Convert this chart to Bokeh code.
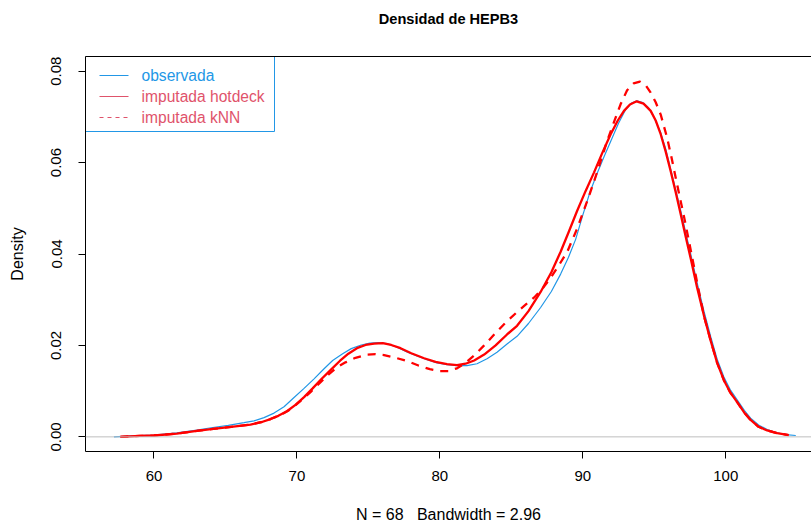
from bokeh.plotting import figure
from bokeh.models import Span, FixedTicker, NumeralTickFormatter, LinearAxis, Range1d
from bokeh.core.properties import value
from bokeh.embed import file_html
from bokeh.resources import INLINE

# ---------------- data ----------------
obs_x = [57.2, 58.5, 60.0, 61.6, 63.0, 64.0, 65.2, 66.3, 67.0, 67.7, 68.4, 69.1, 69.8,
         70.5, 71.2, 71.9, 72.5, 73.2, 73.8, 74.5, 75.1, 75.7, 76.3, 77.0, 77.7, 78.4,
         79.1, 79.8, 80.5, 81.2, 81.9, 82.6, 83.3, 84.0, 84.7, 85.4, 86.2, 87.05, 87.8,
         88.45, 89.0, 89.5, 90.0, 90.5, 91.0, 91.5, 92.0, 92.5, 93.0, 93.4, 93.8, 94.2,
         94.6, 95.0, 95.45, 95.8, 96.15, 96.5, 96.85, 97.2, 97.55, 98.0, 98.5, 98.95,
         99.4, 99.87, 100.3, 100.8, 101.3, 101.74, 102.3, 102.9, 103.6, 104.2, 104.9]
obs_y = [0.0, 0.0002, 0.0004, 0.0009, 0.0015, 0.0020, 0.0025, 0.0031, 0.0035, 0.0042,
         0.0052, 0.0066, 0.0086, 0.0106, 0.0127, 0.0149, 0.0167, 0.0182, 0.0193, 0.0201,
         0.0205, 0.0206, 0.0204, 0.0196, 0.0186, 0.0177, 0.0169, 0.0162, 0.0158, 0.0156,
         0.0156, 0.0160, 0.0171, 0.0185, 0.0203, 0.0220, 0.0248, 0.0283, 0.0318, 0.0356,
         0.0393, 0.0432, 0.0485, 0.0535, 0.0576, 0.0614, 0.0650, 0.0686, 0.0716, 0.0730,
         0.0735, 0.0731, 0.0720, 0.0698, 0.0665, 0.0630, 0.0585, 0.0540, 0.0495, 0.0447,
         0.0400, 0.0337, 0.0272, 0.0219, 0.0170, 0.0131, 0.0104, 0.0081, 0.0058, 0.0041,
         0.0026, 0.0016, 0.0009, 0.0005, 0.0003]

hot_x = [57.65, 59.0, 60.0, 61.6, 63.0, 64.0, 65.4, 66.75, 67.5, 68.15, 68.7, 69.3, 69.9,
         70.5, 71.1, 71.7, 72.35, 73.0, 73.6, 74.2, 74.8, 75.4, 76.0, 76.6, 77.25, 78.0,
         78.9, 79.7, 80.5, 81.2, 81.8, 82.4, 83.1, 83.9, 84.7, 85.4, 86.2, 87.05, 87.8,
         88.45, 89.0, 89.6, 90.2, 90.78, 91.35, 91.95, 92.45, 92.88, 93.3, 93.77, 94.25,
         94.75, 95.1, 95.45, 95.8, 96.15, 96.5, 96.85, 97.2, 97.55, 98.0, 98.5, 98.95,
         99.4, 99.87, 100.3, 100.8, 101.3, 101.74, 102.3, 102.9, 103.6, 104.4]
hot_y = [0.0, 0.0002, 0.0003, 0.0007, 0.0013, 0.0017, 0.0022, 0.0027, 0.0032, 0.0039,
         0.0046, 0.0056, 0.0070, 0.0087, 0.0106, 0.0126, 0.0146, 0.0166, 0.0182, 0.0194,
         0.0201, 0.0204, 0.0205, 0.0201, 0.0194, 0.0183, 0.0172, 0.0164, 0.0159, 0.0157,
         0.0160, 0.0167, 0.0180, 0.0200, 0.0224, 0.0243, 0.0275, 0.0317, 0.0360, 0.0405,
         0.0447, 0.0494, 0.0538, 0.0578, 0.0620, 0.0662, 0.0692, 0.0713, 0.0727, 0.0734,
         0.0729, 0.0713, 0.0692, 0.0662, 0.0624, 0.0581, 0.0535, 0.0487, 0.0438, 0.0390,
         0.0326, 0.0262, 0.0210, 0.0162, 0.0124, 0.0098, 0.0076, 0.0053, 0.0037, 0.0022,
         0.0014, 0.0008, 0.0004]

knn_x = [57.65, 59.0, 60.0, 61.6, 63.0, 64.0, 65.4, 66.75, 67.5, 68.15, 68.8, 69.55, 70.2,
         70.95, 71.6, 72.2, 72.8, 73.4, 74.1, 74.9, 75.5, 76.1, 76.9, 77.7, 78.5, 79.3,
         80.0, 80.6, 81.2, 81.8, 82.4, 83.1, 83.8, 84.6, 85.4, 86.0, 86.6, 87.2, 87.75,
         88.3, 88.9, 89.6, 90.3, 90.8, 91.25, 91.7, 92.2, 92.65, 93.1, 93.55, 94.0, 94.4,
         94.75, 95.1, 95.45, 95.9, 96.2, 96.5, 96.8, 97.1, 97.4, 97.7, 98.1, 98.5, 98.95,
         99.4, 99.87, 100.3, 100.8, 101.3, 101.74, 102.3, 102.9, 103.6, 104.4]
knn_y = [0.0, 0.0002, 0.0003, 0.0007, 0.0013, 0.0017, 0.0022, 0.0027, 0.0032, 0.0039,
         0.0047, 0.0060, 0.0077, 0.0098, 0.0118, 0.0136, 0.0152, 0.0163, 0.0173, 0.0180,
         0.0181, 0.0179, 0.0173, 0.0166, 0.0156, 0.0148, 0.0144, 0.0144, 0.0150, 0.0162,
         0.0178, 0.0200, 0.0224, 0.0250, 0.0273, 0.0289, 0.0305, 0.0325, 0.0348, 0.0374,
         0.0404, 0.0455, 0.0515, 0.0560, 0.0603, 0.0647, 0.0690, 0.0728, 0.0758, 0.0773,
         0.0777, 0.0769, 0.0753, 0.0732, 0.0705, 0.0654, 0.0612, 0.0567, 0.0522, 0.0479,
         0.0432, 0.0385, 0.0322, 0.0262, 0.0210, 0.0162, 0.0124, 0.0098, 0.0076, 0.0053,
         0.0037, 0.0022, 0.0014, 0.0008, 0.0004]

legend_labels = ["observada", "imputada hotdeck", "imputada kNN"]
x_ticks = [60, 70, 80, 90, 100]
y_ticks = [0.0, 0.02, 0.04, 0.06, 0.08]

title_text = "Densidad de HEPB3"
x_label = "N = 68\u00a0\u00a0\u00a0Bandwidth = 2.96"
y_label = "Density"

# ---------------- styling / layout ----------------
FONT = "Liberation Sans"
BLUE = "#2297E6"
PINK = "#DF536B"
RED = "#FF0000"

W, H = 811, 525
FL, FR, FT, FB = 85, 811, 56, 451   # frame edges in pixels
XR = (55.21, 106.0)
YR = (-0.0032, 0.0832)

def px2x(px):
    return XR[0] + (px - FL) / (FR - FL) * (XR[1] - XR[0])

def px2y(py):
    return YR[1] - (py - FT) / (FB - FT) * (YR[1] - YR[0])

p = figure(width=W, height=H, output_backend="svg", toolbar_location=None,
           x_range=Range1d(*XR), y_range=Range1d(*YR),
           min_border_left=FL, min_border_right=0, min_border_top=FT,
           min_border_bottom=H - FB, background_fill_color="white",
           border_fill_color="white", outline_line_color=None)
p.xgrid.visible = False
p.ygrid.visible = False

for ax in (p.xaxis[0], p.yaxis[0]):
    ax.axis_line_color = "black"
    ax.axis_line_width = 1
    ax.major_tick_in = 0
    ax.major_tick_out = 7
    ax.major_tick_line_color = "black"
    ax.minor_tick_line_color = None
    ax.major_label_text_font = FONT
    ax.major_label_text_font_size = "15px"
    ax.major_label_text_color = "black"
    ax.axis_label_text_font = FONT
    ax.axis_label_text_font_size = "16px"
    ax.axis_label_text_font_style = "normal"
    ax.axis_label_text_color = "black"

p.xaxis[0].ticker = FixedTicker(ticks=x_ticks)
p.xaxis[0].axis_label = x_label
p.xaxis[0].major_label_standoff = 12
p.xaxis[0].axis_label_standoff = 22

p.yaxis[0].ticker = FixedTicker(ticks=y_ticks)
p.yaxis[0].formatter = NumeralTickFormatter(format="0.00")
p.yaxis[0].major_label_orientation = "vertical"
p.yaxis[0].axis_label = y_label
p.yaxis[0].major_label_standoff = 17
p.yaxis[0].axis_label_standoff = 23

# top border of the box, carrying the title as its label
top = LinearAxis(ticker=FixedTicker(ticks=[]), axis_line_color="black",
                 major_tick_out=0, major_tick_in=0, minor_tick_out=0, minor_tick_in=0,
                 major_label_text_font_size="0px", major_label_standoff=0,
                 axis_label=title_text, axis_label_text_font=FONT,
                 axis_label_text_font_size="14.6px", axis_label_text_font_style="bold",
                 axis_label_text_color="black", axis_label_standoff=30)
p.add_layout(top, "above")

p.add_layout(Span(location=0, dimension="width", line_color="#BEBEBE", line_width=1))

p.line(obs_x, obs_y, line_color=BLUE, line_width=1.2)
p.line(hot_x, hot_y, line_color=RED, line_width=2.3, line_join="round")
p.line(knn_x, knn_y, line_color=RED, line_width=2.3, line_dash="8 7", line_join="round")

# legend (top-left, R style)
lx0, lx1 = px2x(FL), px2x(274)
ly0, ly1 = px2y(131), px2y(FT)
p.quad(left=[lx0], right=[lx1], bottom=[ly0], top=[ly1], fill_color="white",
       line_color=BLUE, line_width=1)
rows = [75, 96, 117]
cols = [BLUE, PINK, PINK]
dashes = ["solid", "solid", "4 4"]
for lab, rpx, c, d in zip(legend_labels, rows, cols, dashes):
    p.line([px2x(99), px2x(128)], [px2y(rpx), px2y(rpx)], line_color=c, line_width=1,
           line_dash=d)
p.text(x=[px2x(141)] * 3, y=[px2y(r) for r in rows], text=legend_labels,
       text_color=cols, text_font=value(FONT), text_font_size="15.6px",
       text_baseline="middle", text_align="left")

open("out.html", "w").write(file_html(p, INLINE))
